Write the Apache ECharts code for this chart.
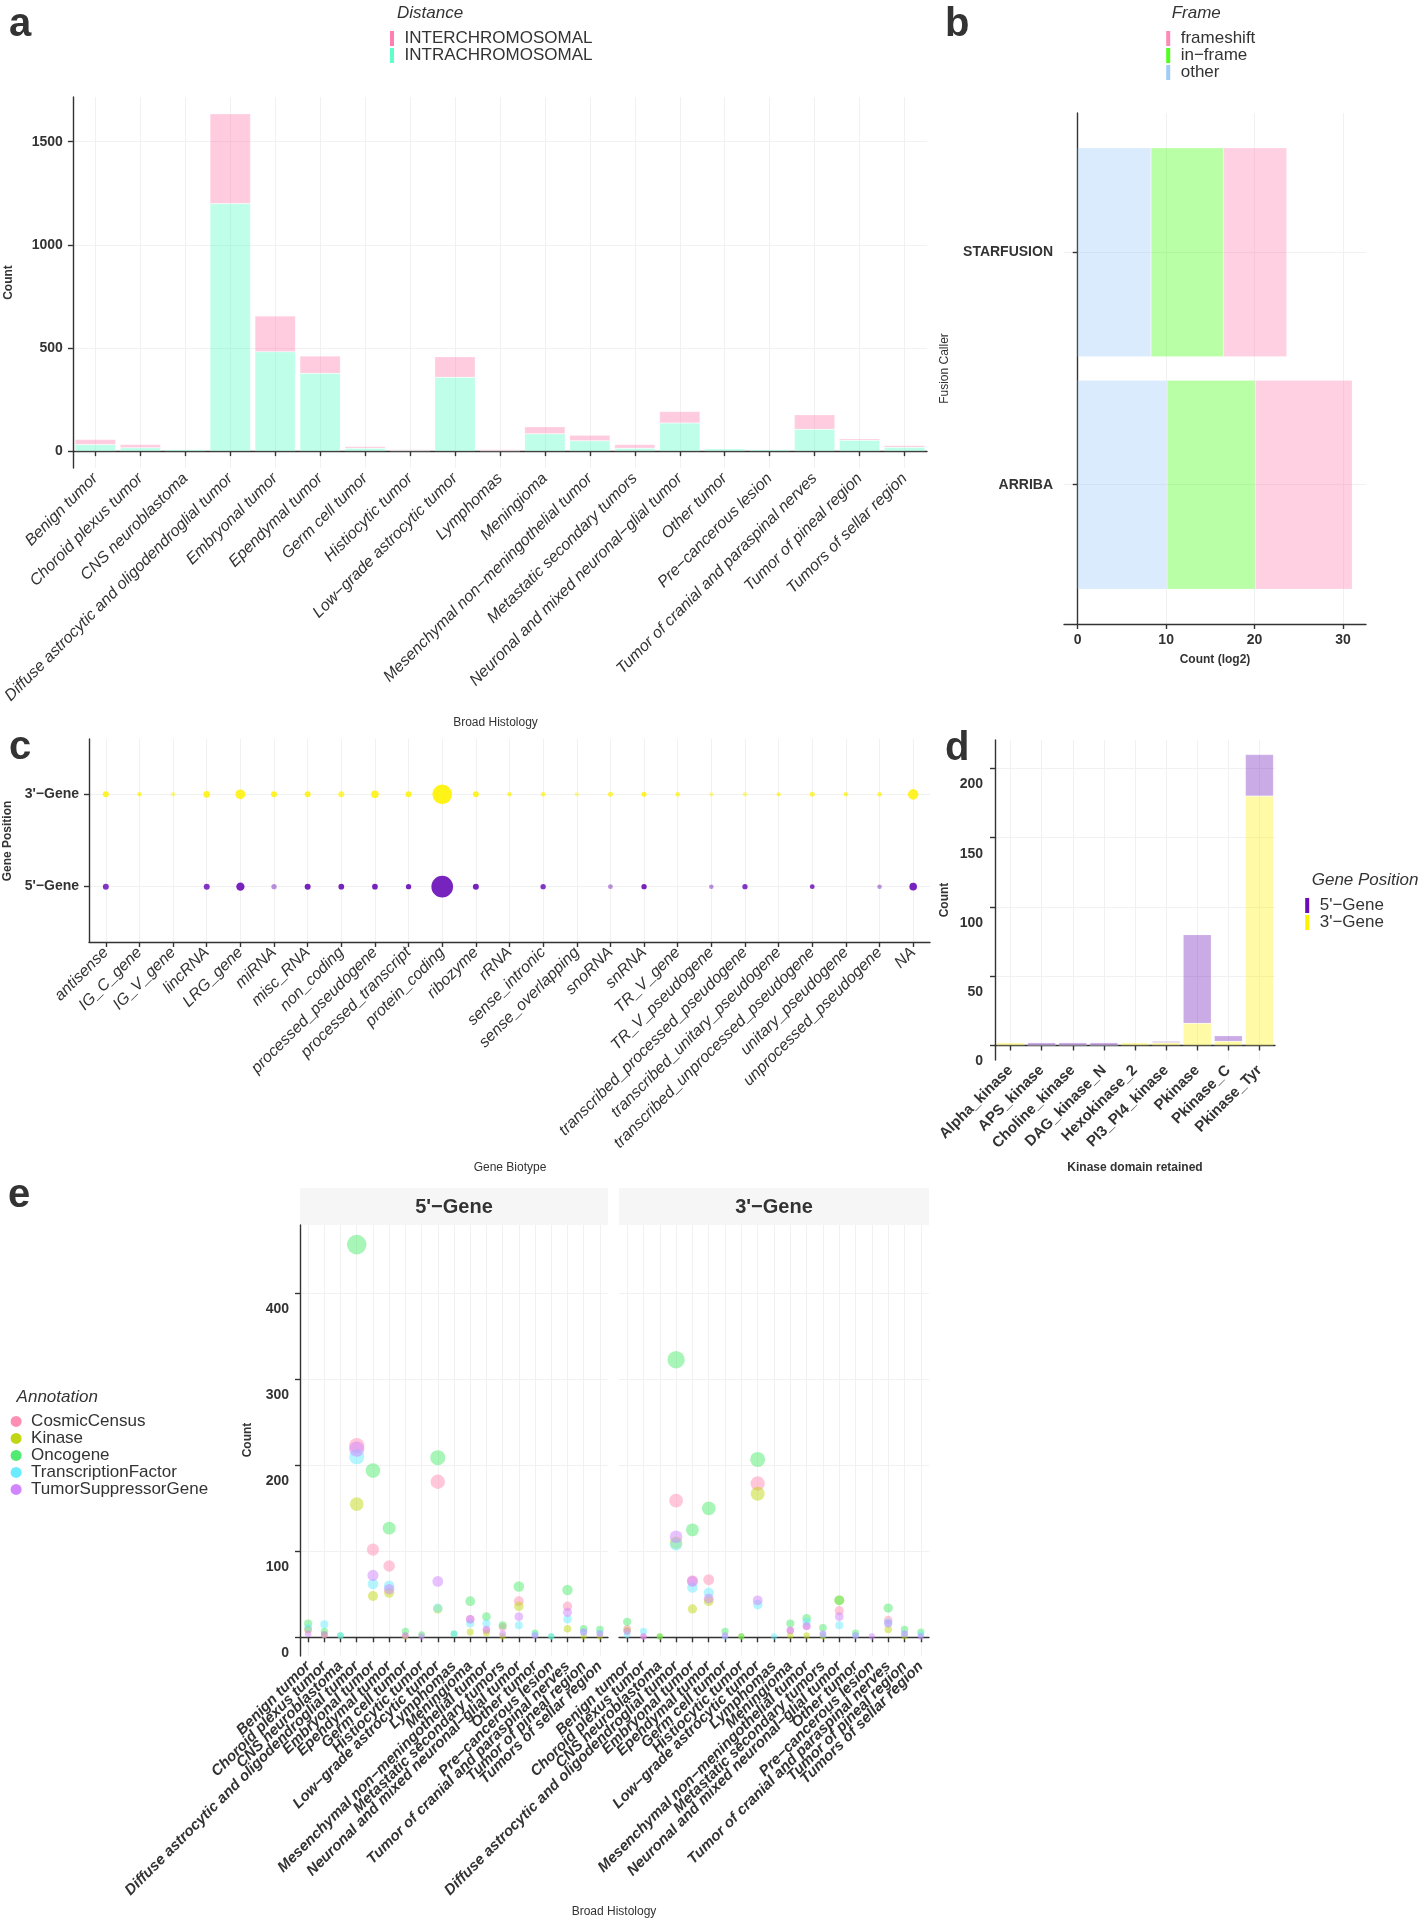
<!DOCTYPE html>
<html>
<head>
<meta charset="utf-8">
<title>Fusion summary panels</title>
<script src="https://cdn.jsdelivr.net/npm/echarts@6/dist/echarts.min.js"></script>
<style>
  html, body { margin: 0; padding: 0; background: #fff; }
  #chart { width: 1419px; height: 1920px; }
</style>
</head>
<body>
<div id="chart"></div>
<script>
// ---- panel a: fusions per broad histology ----
const histologies = ['Benign tumor', 'Choroid plexus tumor', 'CNS neuroblastoma',
  'Diffuse astrocytic and oligodendroglial tumor', 'Embryonal tumor', 'Ependymal tumor',
  'Germ cell tumor', 'Histiocytic tumor', 'Low\u2212grade astrocytic tumor', 'Lymphomas',
  'Meningioma', 'Mesenchymal non\u2212meningothelial tumor', 'Metastatic secondary tumors',
  'Neuronal and mixed neuronal\u2212glial tumor', 'Other tumor', 'Pre\u2212cancerous lesion',
  'Tumor of cranial and paraspinal nerves', 'Tumor of pineal region', 'Tumors of sellar region'];
const intraCounts = [32, 16, 8, 1200, 482, 377, 14, 3, 358, 2, 84, 50, 14, 137, 11, 8, 106, 53, 19];
const interCounts = [24, 16, 0, 435, 173, 84, 9, 5, 100, 6, 34, 27, 18, 55, 3, 0, 70, 7, 8];
const ticksA = [0, 500, 1000, 1500];

// ---- panel b: frame by fusion caller (log2 counts) ----
const callers = ['ARRIBA', 'STARFUSION'];
const frameOther = [10.09, 8.28];
const frameInFrame = [9.97, 8.20];
const frameShift = [10.99, 7.16];
const ticksB = [0, 10, 20, 30];

// ---- panel c: gene biotype by gene position ----
const biotypes = ['antisense', 'IG_C_gene', 'IG_V_gene', 'lincRNA', 'LRG_gene', 'miRNA', 'misc_RNA',
  'non_coding', 'processed_pseudogene', 'processed_transcript', 'protein_coding', 'ribozyme', 'rRNA',
  'sense_intronic', 'sense_overlapping', 'snoRNA', 'snRNA', 'TR_V_gene', 'TR_V_pseudogene',
  'transcribed_processed_pseudogene', 'transcribed_unitary_pseudogene',
  'transcribed_unprocessed_pseudogene', 'unitary_pseudogene', 'unprocessed_pseudogene', 'NA'];
const gene3Count = [23, 13, 13, 30, 63, 23, 23, 23, 37, 23, 247, 23, 13, 13, 11, 16, 16, 14, 11, 13, 11, 16, 13, 14, 71];
const gene3Overlap = [3, 2, 1, 3, 3, 3, 3, 2, 3, 3, 4, 3, 2, 2, 1, 2, 3, 2, 1, 1, 2, 2, 2, 2, 3];
const gene5Count = [23, null, null, 23, 44, 18, 23, 21, 21, 18, 300, 23, null, 18, null, 15, 18, null, 13, 18, null, 15, null, 13, 37];
const gene5Overlap = [3, null, null, 3, 4, 1, 4, 4, 4, 4, 4, 4, null, 3, null, 1, 4, null, 1, 3, null, 3, null, 1, 4];
const positionTicks = [1, 2];
const positionNames = { 1: "5'\u2212Gene", 2: "3'\u2212Gene" };

// ---- panel d: kinase domain retained ----
const kinaseDomains = ['Alpha_kinase', 'APS_kinase', 'Choline_kinase', 'DAG_kinase_N', 'Hexokinase_2',
  'PI3_PI4_kinase', 'Pkinase', 'Pkinase_C', 'Pkinase_Tyr'];
const kinase3 = [2, 0, 0, 0, 2, 2, 16, 3, 180];
const kinase5 = [0, 2, 2, 2, 0, 1, 64, 4, 30];
const ticksD = [0, 50, 100, 150, 200];

// ---- panel e: annotated genes per histology (order follows `histologies`) ----
const annotations = ['CosmicCensus', 'Kinase', 'Oncogene', 'TranscriptionFactor', 'TumorSuppressorGene'];
const cosmic5 = [9, 3, null, 223, 102, 83, 2, null, 181, null, 21, 8, 12, 42, null, null, 36, null, null];
const kinaseAnn5 = [9, 3, null, 155, 48, 52, 1, null, 33, null, 6, 5, 1, 36, null, null, 10, 1, 1];
const onco5 = [16, 7, 2, 457, 194, 127, 7, 3, 209, 4, 42, 24, 14, 59, 5, 1, 55, 10, 9];
const tf5 = [11, 15, 2, 210, 62, 60, null, null, 34, 4, 16, 16, null, 14, 3, 1, 21, 6, 5];
const tsg5 = [4, 3, null, 219, 72, 56, 2, 1, 65, null, 21, 9, 4, 24, 2, null, 29, 6, 4];
const cosmic3 = [10, 1, null, 159, 66, 67, null, null, 179, null, 8, 13, null, 31, null, null, 20, null, null];
const kinaseAnn3 = [8, null, 1, 110, 33, 42, null, 1, 167, null, 2, 2, 1, 43, null, null, 9, 1, null];
const onco3 = [18, null, 1, 323, 125, 150, 7, 1, 207, null, 16, 22, 11, 43, 5, null, 34, 9, 6];
const tf3 = [3, 7, null, 108, 58, 52, 1, null, 38, 1, null, 18, 3, 14, 2, null, 17, 4, 3];
const tsg3 = [7, 1, null, 117, 65, 45, 2, null, 43, null, 8, 13, 4, 24, 2, 1, 16, 4, 1];
const ticksE = [0, 100, 200, 300, 400];

// ---- styling ----
const FONT = 'Liberation Sans, Arial, Helvetica, sans-serif';
const INK = '#333333';
const GRID_LINE = '#f1f1f1';
const KEY_BAR = 'path://M0,0H4V15H0Z';

const PINK = '#FF7FAE', MINT = '#60FFC9';
const SHIFT = '#FF89B6', INFRAME = '#50FF1E', OTHER = '#A0CDF7';
const PURPLE = '#6A0DB8', YELLOW = '#FFF200';
const annColors = ['#FF90B4', '#C1D715', '#51EB71', '#6BEBFF', '#D185FF'];

const chart = echarts.init(document.getElementById('chart'));

function line() { return { show: true, lineStyle: { color: INK, width: 1.4 } }; }

function catAxis(gridIndex, data, label) {
  return {
    type: 'category', gridIndex: gridIndex, data: data, boundaryGap: true,
    axisLine: line(),
    axisTick: { show: true, interval: 0, alignWithLabel: true, length: 5, lineStyle: { color: INK, width: 1.4 } },
    axisLabel: Object.assign({ interval: 0, rotate: 45, margin: 8, color: INK, fontFamily: FONT }, label),
    splitLine: { show: true, interval: 0, alignWithLabel: true, lineStyle: { color: GRID_LINE, width: 1 } }
  };
}

function valAxis(gridIndex, min, max, ticks, splitNumber, label) {
  return {
    type: 'value', gridIndex: gridIndex, min: min, max: max, splitNumber: splitNumber,
    axisLine: line(),
    axisTick: { show: true, length: 5, customValues: ticks, lineStyle: { color: INK, width: 1.4 } },
    axisLabel: Object.assign({ customValues: ticks, color: INK, fontFamily: FONT, fontWeight: 'bold',
      fontSize: 14, margin: 11, formatter: v => String(v) }, label),
    splitLine: { show: true, lineStyle: { color: GRID_LINE, width: 1 } }
  };
}

// labels of d and e sit a line below their ticks
const droppedLabel = { formatter: v => '\n' + v, lineHeight: 32 };

function text(str, x, y, opts) {
  opts = opts || {};
  return {
    type: 'text', x: x, y: y, rotation: opts.rotation || 0, silent: true,
    style: {
      text: str, fill: INK, fontFamily: FONT,
      fontSize: opts.size || 12, fontWeight: opts.weight || 'normal', fontStyle: opts.style || 'normal',
      align: opts.align || 'center', verticalAlign: 'middle'
    }
  };
}

function legendBase(extra) {
  return Object.assign({
    orient: 'vertical', padding: 0, itemGap: 0, selectedMode: false,
    itemWidth: 15, itemHeight: 15, icon: KEY_BAR,
    itemStyle: { opacity: 1, borderWidth: 0 },
    textStyle: { fontFamily: FONT, fontSize: 17, color: INK, lineHeight: 16 }
  }, extra);
}

function stackBar(name, data, color, opacity, stack, xi, yi, width) {
  return {
    type: 'bar', name: name, data: data, stack: stack, xAxisIndex: xi, yAxisIndex: yi,
    barWidth: width, itemStyle: { color: color, opacity: opacity, borderColor: '#ffffff', borderWidth: 0.5 }
  };
}

// overlapping translucent points darken: opacity grows with the overlap count
function positionSeries(name, yPos, counts, overlaps, color) {
  const data = [];
  counts.forEach((c, i) => {
    if (c == null) return;
    data.push({ value: [i, yPos, c], itemStyle: { opacity: 1 - Math.pow(0.55, overlaps[i]) } });
  });
  return {
    type: 'scatter', name: name, xAxisIndex: 3, yAxisIndex: 3, data: data,
    symbolSize: v => 1.25 * Math.sqrt(v[2]), itemStyle: { color: color }
  };
}

function annSeries(k, values, axisIndex) {
  return {
    type: 'scatter', name: annotations[k], xAxisIndex: axisIndex, yAxisIndex: axisIndex,
    data: values.map(v => (v == null ? '-' : v)),
    symbolSize: v => 5.5 + 0.66 * Math.sqrt(v),
    itemStyle: { color: annColors[k], opacity: 0.5 }
  };
}

const histLabelE = { fontSize: 15, fontStyle: 'italic', fontWeight: 'bold' };

const option = {
  animation: false,
  backgroundColor: '#ffffff',
  textStyle: { fontFamily: FONT, color: INK },
  grid: [
    { left: 64, top: 97, width: 863, height: 371 },        // a
    { left: 1064, top: 113, width: 302, height: 511 },     // b frame
    { left: 1064, top: 136.2, width: 302, height: 464.6 }, // b bars
    { left: 89, top: 739, width: 841, height: 203 },       // c
    { left: 995, top: 740, width: 280, height: 320 },      // d
    { left: 300, top: 1225, width: 308, height: 431 },     // e 5'
    { left: 619, top: 1225, width: 310, height: 431 }      // e 3'
  ],
  xAxis: [
    catAxis(0, histologies, { fontSize: 16, fontStyle: 'italic' }),
    valAxis(1, -1.55, 32.6, ticksB, 4, { margin: 9 }),
    { type: 'value', gridIndex: 2, min: -1.55, max: 32.6, show: false },
    catAxis(3, biotypes, { fontSize: 16, fontStyle: 'italic' }),
    catAxis(4, kinaseDomains, { fontSize: 15, fontWeight: 'bold' }),
    catAxis(5, histologies, histLabelE),
    catAxis(6, histologies, histLabelE)
  ],
  yAxis: [
    valAxis(0, -81.75, 1716.75, ticksA, 4, { margin: 10 }),
    { type: 'value', gridIndex: 1, min: 0, max: 1, axisLine: line(), axisTick: { show: false },
      axisLabel: { show: false }, splitLine: { show: false } },
    { type: 'category', gridIndex: 2, data: callers, boundaryGap: true,
      axisLine: { show: false },
      axisTick: { show: true, alignWithLabel: true, length: 5, lineStyle: { color: INK, width: 1.4 } },
      axisLabel: { color: INK, fontFamily: FONT, fontWeight: 'bold', fontSize: 14, margin: 11 },
      splitLine: { show: true, alignWithLabel: true, lineStyle: { color: GRID_LINE, width: 1 } } },
    valAxis(3, 0.4, 2.6, positionTicks, 2, { margin: 10, formatter: v => positionNames[v] || '' }),
    valAxis(4, -10.5, 220.5, ticksD, 5, Object.assign({ margin: 12 }, droppedLabel)),
    valAxis(5, -21.8, 479.8, ticksE, 5, Object.assign({ margin: 11 }, droppedLabel)),
    Object.assign(valAxis(6, -21.8, 479.8, ticksE, 5, {}), {
      axisLine: { show: false }, axisTick: { show: false, customValues: ticksE },
      axisLabel: { show: false, customValues: ticksE } })
  ],
  legend: [
    legendBase({ data: ['INTERCHROMOSOMAL', 'INTRACHROMOSOMAL'], left: 390, top: 30 }),
    legendBase({ data: ['frameshift', 'in\u2212frame', 'other'], left: 1166.2, top: 30 }),
    legendBase({ data: ["5'\u2212Gene", "3'\u2212Gene"], left: 1305.2, top: 897 }),
    legendBase({ data: annotations, left: 10.6, top: 1412.9, icon: 'circle', itemWidth: 20, itemHeight: 11,
      textStyle: { fontFamily: FONT, fontSize: 17, color: INK, lineHeight: 16.25 } })
  ],
  graphic: {
    elements: [
      // panel letters
      text('a', 9, 25, { size: 40, weight: 'bold', align: 'left' }),
      text('b', 945, 25, { size: 40, weight: 'bold', align: 'left' }),
      text('c', 9, 748, { size: 40, weight: 'bold', align: 'left' }),
      text('d', 945, 749, { size: 40, weight: 'bold', align: 'left' }),
      text('e', 8, 1196, { size: 40, weight: 'bold', align: 'left' }),
      // legend titles
      text('Distance', 397, 13.5, { size: 17, style: 'italic', align: 'left' }),
      text('Frame', 1171.7, 13, { size: 17, style: 'italic', align: 'left' }),
      text('Gene Position', 1311.7, 880, { size: 17, style: 'italic', align: 'left' }),
      text('Annotation', 16.6, 1397.5, { size: 17, style: 'italic', align: 'left' }),
      // axis titles
      text('Count', 9, 282.5, { weight: 'bold', rotation: Math.PI / 2 }),
      text('Broad Histology', 495.5, 723),
      text('Fusion Caller', 945, 368.5, { rotation: Math.PI / 2 }),
      text('Count (log2)', 1215, 659.5, { weight: 'bold' }),
      text('Gene Position', 7.5, 841, { weight: 'bold', rotation: Math.PI / 2 }),
      text('Gene Biotype', 510, 1168),
      text('Count', 945, 900, { weight: 'bold', rotation: Math.PI / 2 }),
      text('Kinase domain retained', 1135, 1167.7, { weight: 'bold' }),
      text('Count', 248, 1440, { weight: 'bold', rotation: Math.PI / 2 }),
      text('Broad Histology', 614, 1912),
      // facet strips
      { type: 'rect', shape: { x: 300, y: 1188, width: 308, height: 37 }, style: { fill: '#f6f6f6' }, silent: true },
      { type: 'rect', shape: { x: 619, y: 1188, width: 310, height: 37 }, style: { fill: '#f6f6f6' }, silent: true },
      text("5'\u2212Gene", 454, 1207, { size: 20, weight: 'bold' }),
      text("3'\u2212Gene", 774, 1207, { size: 20, weight: 'bold' })
    ]
  },
  series: [
    stackBar('INTRACHROMOSOMAL', intraCounts, MINT, 0.4, 'a', 0, 0, '90%'),
    stackBar('INTERCHROMOSOMAL', interCounts, PINK, 0.4, 'a', 0, 0, '90%'),
    stackBar('other', frameOther, OTHER, 0.4, 'b', 2, 2, 209),
    stackBar('in\u2212frame', frameInFrame, INFRAME, 0.4, 'b', 2, 2, 209),
    stackBar('frameshift', frameShift, SHIFT, 0.4, 'b', 2, 2, 209),
    positionSeries("3'\u2212Gene", 2, gene3Count, gene3Overlap, YELLOW),
    positionSeries("5'\u2212Gene", 1, gene5Count, gene5Overlap, PURPLE),
    stackBar("3'\u2212Gene", kinase3, YELLOW, 0.35, 'd', 4, 4, '90%'),
    stackBar("5'\u2212Gene", kinase5, PURPLE, 0.35, 'd', 4, 4, '90%'),
    annSeries(0, cosmic5, 5), annSeries(1, kinaseAnn5, 5), annSeries(2, onco5, 5),
    annSeries(3, tf5, 5), annSeries(4, tsg5, 5),
    annSeries(0, cosmic3, 6), annSeries(1, kinaseAnn3, 6), annSeries(2, onco3, 6),
    annSeries(3, tf3, 6), annSeries(4, tsg3, 6)
  ]
};

chart.setOption(option);
</script>
</body>
</html>
